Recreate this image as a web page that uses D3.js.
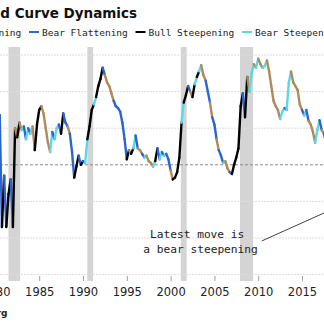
<!DOCTYPE html>
<html>
<head>
<meta charset="utf-8">
<script src="https://cdn.jsdelivr.net/npm/d3@7"></script>
<style>
  body { margin: 0; background: #fff; }
  svg { display: block; }
</style>
</head>
<body>
<div id="chart"></div>
<script>
const regimes = ['Bull Flattening', 'Bear Flattening', 'Bull Steepening', 'Bear Steepening'];
const regimeColors = ['#b08a5c', '#2c64d2', '#000000', '#5ad8e4'];

// 2s10s spread (bp), one reading per quarter starting Q1 1980
const firstYear = 1980;
const spread = [
  -40, -180, 135, -170,   // 1980
  -30, -170, -80, -40,    // 1981
  -170, 100, 75, 115,     // 1982
  95, 105, 70, 100,       // 1983
  85, 105, 40, 110,       // 1984
  150, 160, 140, 100,     // 1985
  60, 35, 90, 70,         // 1986
  100, 110, 85, 140,      // 1987
  115, 105, 85, 35,       // 1988
  -35, -5, 25, 0,         // 1989
  10, 5, 70, 105,         // 1990
  150, 165, 185, 215,     // 1991
  235, 265, 245, 225,     // 1992
  215, 195, 175, 160,     // 1993
  155, 145, 115, 70,      // 1994
  15, 40, 30, 45,         // 1995
  80, 45, 40, 30,         // 1996
  20, 25, 10, 5,          // 1997
  -5, 10, 45, 15,         // 1998
  35, 25, 30, 15,         // 1999
  -15, -40, -35, -20,     // 2000
  20, 115, 170, 190,      // 2001
  215, 200, 185, 220,     // 2002
  240, 255, 272, 245,     // 2003
  230, 200, 170, 130,     // 2004
  110, 70, 40, 25,        // 2005
  5, 10, -10, -20,        // 2006
  -25, 0, 20, 45,         // 2007
  160, 195, 130, 240,     // 2008
  200, 250, 275, 265,     // 2009
  290, 275, 265, 270,     // 2010
  285, 255, 215, 175,     // 2011
  160, 150, 125, 145,     // 2012
  155, 150, 225, 255,     // 2013
  225, 215, 205, 165,     // 2014
  150, 135, 150, 120,     // 2015
  110, 90, 60, 95,        // 2016
  122, 95, 85, 60,        // 2017
  55                      // 2018
];

// yield direction over each quarter: + rising (bear), - falling (bull)
const yieldMoves = [
  '++-+', '-+--', '+---', '-+++', '++--', '----', '--++', '+++-',
  '++-+', '+--+', '-++-', '--+-', '--+-', '---+', '++++', '+---',
  '++--', '++--', '-+-+', '++++', '+---', '--+-', '-+--', '+-+-',
  '-++-', '++-+', '++--', '+---', '--+-', '-++-', '+--+', '+---',
  '---+', '++++', '----', '-+++', '---+', '++-+', '+'
].join('');

const recessions = [
  ['1980-01-01', '1980-07-01'],
  ['1981-07-01', '1982-11-01'],
  ['1990-07-01', '1991-03-01'],
  ['2001-03-01', '2001-11-01'],
  ['2007-12-01', '2009-06-01']
];

const yearTicks = [1980, 1985, 1990, 1995, 2000, 2005, 2010, 2015];
const spreadTicks = [-300, -200, -100, 0, 100, 200, 300];

const width = 324, height = 325;
const plotTop = 47, plotBottom = 281;

const svg = d3.select('#chart').append('svg')
  .attr('width', width)
  .attr('height', height);

const x = d3.scaleTime()
  .domain([new Date(1985, 0, 1), new Date(2015, 0, 1)])
  .range([39.2, 302]);

const y = d3.scaleLinear()
  .domain([-300, 300])
  .range([274.6, 55]);

// recession shading
svg.append('g').selectAll('rect')
  .data(recessions)
  .join('rect')
  .attr('x', d => x(new Date(d[0])))
  .attr('width', d => x(new Date(d[1])) - x(new Date(d[0])))
  .attr('y', plotTop)
  .attr('height', plotBottom - plotTop)
  .attr('fill', '#d4d4d4');

// horizontal grid, zero line dashed darker
svg.append('g').selectAll('line')
  .data(spreadTicks)
  .join('line')
  .attr('x1', 0)
  .attr('x2', width)
  .attr('y1', d => y(d))
  .attr('y2', d => y(d))
  .attr('stroke', d => d === 0 ? '#8a8a8a' : '#dcdcdc')
  .attr('stroke-width', 1)
  .attr('stroke-dasharray', d => d === 0 ? '3,2' : '2,1');

const points = spread.map((v, i) => ({
  date: new Date(firstYear, i * 3, 1),
  value: v,
  bear: yieldMoves[i] === '+'
}));

const segments = points.slice(1).map((p, i) => {
  const prev = points[i];
  const steep = p.value > prev.value;
  return { pair: [prev, p], regime: (steep ? 2 : 0) + (p.bear ? 1 : 0) };
});

const line = d3.line()
  .x(d => x(d.date))
  .y(d => y(d.value));

svg.append('g').selectAll('path')
  .data(segments)
  .join('path')
  .attr('d', d => line(d.pair))
  .attr('fill', 'none')
  .attr('stroke', d => regimeColors[d.regime])
  .attr('stroke-width', 2.4)
  .attr('stroke-linecap', 'round');

// x axis
const xAxis = d3.axisBottom(x)
  .tickValues(yearTicks.map(yr => new Date(yr, 0, 1)))
  .tickFormat(d3.timeFormat('%Y'))
  .tickSize(5)
  .tickPadding(7);

const axisG = svg.append('g')
  .attr('transform', `translate(0, ${plotBottom - 5})`)
  .call(xAxis);
axisG.select('.domain').remove();
axisG.selectAll('line').attr('stroke', '#a0a0a0');
axisG.selectAll('text')
  .attr('fill', '#222')
  .style('font-family', 'DejaVu Sans')
  .style('font-size', '11.5px');

// title
svg.append('text')
  .attr('x', 137)
  .attr('y', 17.5)
  .attr('text-anchor', 'end')
  .style('font-family', 'DejaVu Sans')
  .style('font-weight', 'bold')
  .style('font-size', '13.5px')
  .attr('fill', '#111')
  .text('Yield Curve Dynamics');

// legend
const legend = svg.append('g').selectAll('g')
  .data(regimes)
  .join('g')
  .attr('transform', (d, i) => `translate(${-64.5 + i * 106.5}, 0)`);

legend.append('line')
  .attr('x1', -13)
  .attr('x2', -3)
  .attr('y1', 32)
  .attr('y2', 32)
  .attr('stroke', (d, i) => regimeColors[i])
  .attr('stroke-width', 2);

legend.append('text')
  .attr('y', 35.5)
  .style('font-family', 'DejaVu Sans Mono')
  .style('font-size', '9.5px')
  .attr('fill', '#222')
  .text(d => d);

// annotation
const note = svg.append('text')
  .style('font-family', 'DejaVu Sans Mono')
  .style('font-size', '11.2px')
  .attr('fill', '#222');
note.append('tspan').attr('x', 150).attr('y', 238).text('Latest move is');
note.append('tspan').attr('x', 143.3).attr('y', 252.5).text('a bear steepening');

svg.append('line')
  .attr('x1', x(new Date('2010-06-01')))
  .attr('y1', y(-208))
  .attr('x2', x(new Date('2018-06-01')))
  .attr('y2', y(-122))
  .attr('stroke', '#444')
  .attr('stroke-width', 1);

// source line
svg.append('text')
  .attr('x', 7.5)
  .attr('y', 316)
  .attr('text-anchor', 'end')
  .style('font-family', 'DejaVu Sans')
  .style('font-weight', 'bold')
  .style('font-size', '9px')
  .attr('fill', '#222')
  .text('Source: Bloomberg');
</script>
</body>
</html>
